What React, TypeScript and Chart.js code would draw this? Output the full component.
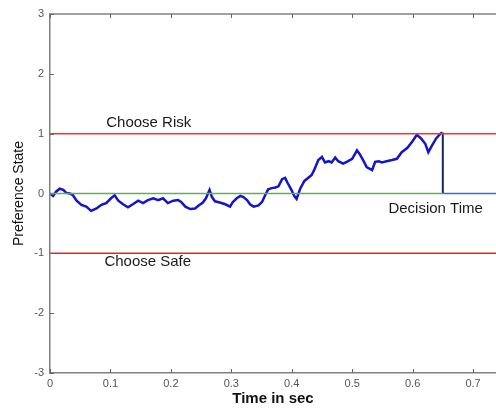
import React, { useEffect, useRef } from "react";
import { Chart, registerables } from "chart.js";

Chart.register(...registerables);

const walkTimes = [
  0, 0.005, 0.01, 0.016, 0.022, 0.027, 0.033, 0.038, 0.044, 0.052, 0.06, 0.068, 0.077, 0.085,
  0.093, 0.101, 0.107, 0.113, 0.121, 0.129, 0.137, 0.146, 0.154, 0.162, 0.171, 0.179, 0.187, 0.195,
  0.204, 0.212, 0.217, 0.224, 0.232, 0.24, 0.246, 0.253, 0.258, 0.264, 0.268, 0.273, 0.281, 0.29,
  0.298, 0.302, 0.309, 0.315, 0.32, 0.326, 0.331, 0.337, 0.345, 0.351, 0.356, 0.361, 0.367, 0.373,
  0.378, 0.384, 0.389, 0.393, 0.399, 0.404, 0.408, 0.414, 0.421, 0.426, 0.433, 0.437, 0.444, 0.45,
  0.455, 0.461, 0.466, 0.472, 0.477, 0.485, 0.491, 0.5, 0.508, 0.513, 0.519, 0.524, 0.533, 0.538,
  0.544, 0.549, 0.557, 0.566, 0.574, 0.582, 0.591, 0.599, 0.607, 0.614, 0.621, 0.626, 0.632, 0.639,
  0.646, 0.649,
];
const walkValues = [
  0, -0.04, 0.03, 0.08, 0.06, 0.01, 0, -0.03, -0.12, -0.19, -0.22, -0.29, -0.25, -0.19,
  -0.16, -0.08, -0.03, -0.12, -0.18, -0.23, -0.18, -0.12, -0.16, -0.11, -0.08, -0.11, -0.08, -0.16,
  -0.12, -0.11, -0.14, -0.22, -0.26, -0.25, -0.2, -0.15, -0.08, 0.06, -0.06, -0.13, -0.15, -0.18,
  -0.22, -0.15, -0.08, -0.04, -0.06, -0.11, -0.18, -0.22, -0.2, -0.14, -0.03, 0.07, 0.09, 0.1,
  0.12, 0.24, 0.26, 0.18, 0.07, -0.04, -0.09, 0.08, 0.21, 0.25, 0.31, 0.39, 0.56, 0.61,
  0.52, 0.54, 0.52, 0.6, 0.54, 0.5, 0.53, 0.58, 0.72, 0.65, 0.54, 0.44, 0.39, 0.53,
  0.54, 0.52, 0.54, 0.56, 0.58, 0.69, 0.76, 0.86, 0.98, 0.92, 0.83, 0.69, 0.8, 0.92,
  1.0, 1.02,
];

const decisionTime = 0.65;
const riskBound = 1;
const safeBound = -1;
const xMin = 0;
const xMax = 0.738;
const yMin = -3;
const yMax = 3;
const xTicks = [0, 0.1, 0.2, 0.3, 0.4, 0.5, 0.6, 0.7];
const yTicks = [-3, -2, -1, 0, 1, 2, 3];
const labels = [
  { text: "Choose Risk", x: 0.093, y: 1.18 },
  { text: "Choose Safe", x: 0.09, y: -1.15 },
  { text: "Decision Time", x: 0.56, y: -0.26 },
];

const FONT = "'Liberation Sans', Arial, Helvetica, sans-serif";

const decor = {
  id: "decor",
  afterDatasetsDraw(chart: any) {
    const { ctx, chartArea, scales } = chart;
    const xs = scales.x;
    const ys = scales.y;
    ctx.save();
    ctx.strokeStyle = "#808080";
    ctx.lineWidth = 1.5;
    ctx.beginPath();
    ctx.moveTo(chartArea.left, chartArea.top);
    ctx.lineTo(chartArea.right, chartArea.top);
    ctx.stroke();
    ctx.lineWidth = 1;
    ctx.strokeStyle = "#666";
    xTicks.forEach((t) => {
      const px = Math.round(xs.getPixelForValue(t)) + 0.5;
      ctx.beginPath();
      ctx.moveTo(px, chartArea.bottom);
      ctx.lineTo(px, chartArea.bottom - 4);
      ctx.moveTo(px, chartArea.top);
      ctx.lineTo(px, chartArea.top + 4);
      ctx.stroke();
    });
    yTicks.forEach((v) => {
      const py = Math.round(ys.getPixelForValue(v)) + 0.5;
      ctx.beginPath();
      ctx.moveTo(chartArea.left, py);
      ctx.lineTo(chartArea.left + 4, py);
      ctx.stroke();
    });
    ctx.fillStyle = "#1a1a1a";
    ctx.font = `15px ${FONT}`;
    ctx.textBaseline = "middle";
    ctx.textAlign = "left";
    labels.forEach((l) => {
      ctx.fillText(l.text, xs.getPixelForValue(l.x), ys.getPixelForValue(l.y));
    });
    ctx.restore();
  },
};

export default function App() {
  const ref = useRef<HTMLCanvasElement | null>(null);
  useEffect(() => {
    document.body.style.margin = "0";
    if (!ref.current) return;
    const walk = walkTimes.map((t, i) => ({ x: t, y: walkValues[i] }));
    const chart = new Chart(ref.current, {
      type: "line",
      data: {
        datasets: [
          {
            data: [{ x: xMin, y: riskBound }, { x: xMax, y: riskBound }],
            borderColor: "#e83a36",
            borderWidth: 1.5,
            pointRadius: 0,
          },
          {
            data: [{ x: xMin, y: safeBound }, { x: xMax, y: safeBound }],
            borderColor: "#c83434",
            borderWidth: 1.5,
            pointRadius: 0,
          },
          {
            data: [{ x: xMin, y: 0 }, { x: decisionTime, y: 0 }],
            borderColor: "#6fa468",
            borderWidth: 1.5,
            pointRadius: 0,
          },
          {
            data: [{ x: decisionTime, y: 0 }, { x: xMax, y: 0 }],
            borderColor: "#3f6fae",
            borderWidth: 1.5,
            pointRadius: 0,
          },
          {
            data: [{ x: decisionTime, y: walkValues[walkValues.length - 1] }, { x: decisionTime, y: 0 }],
            borderColor: "#1c2370",
            borderWidth: 2,
            pointRadius: 0,
          },
          {
            data: walk,
            borderColor: "#1414c8",
            borderWidth: 2.5,
            pointRadius: 0,
            tension: 0,
          },
        ],
      },
      options: {
        responsive: false,
        animation: false,
        events: [],
        layout: { padding: { top: 14, right: 0, left: 0, bottom: 0 } },
        plugins: { legend: { display: false }, tooltip: { enabled: false } },
        scales: {
          x: {
            type: "linear",
            min: xMin,
            max: xMax,
            afterFit: (s: any) => {
              s.height = 36;
            },
            afterBuildTicks: (s: any) => {
              s.ticks = xTicks.map((v) => ({ value: v }));
            },
            grid: { display: false, drawTicks: false },
            border: { display: true, color: "#808080", width: 1.5 },
            ticks: {
              padding: 4,
              color: "#555",
              font: { family: FONT, size: 11 },
              callback: (v: any) => (Number(v) === 0 ? "0" : Number(v).toFixed(1)),
            },
            title: {
              display: true,
              text: "Time in sec",
              color: "#111",
              font: { family: FONT, size: 15, weight: "bold" },
              padding: { top: 0, bottom: 1 },
            },
          },
          y: {
            type: "linear",
            min: yMin,
            max: yMax,
            afterFit: (s: any) => {
              s.width = 50;
            },
            afterBuildTicks: (s: any) => {
              s.ticks = yTicks.map((v) => ({ value: v }));
            },
            grid: { display: false, drawTicks: false },
            border: { display: true, color: "#808080", width: 1.5 },
            ticks: {
              padding: 6,
              color: "#555",
              font: { family: FONT, size: 11 },
              callback: (v: any) => String(v),
            },
            title: {
              display: true,
              text: "Preference State",
              color: "#111",
              font: { family: FONT, size: 14 },
              padding: { top: 11, bottom: 0 },
            },
          },
        },
      },
      plugins: [decor],
    });
    return () => chart.destroy();
  }, []);
  return (
    <div style={{ width: 496, height: 409 }}>
      <canvas ref={ref} width={496} height={409} style={{ display: "block" }} />
    </div>
  );
}
